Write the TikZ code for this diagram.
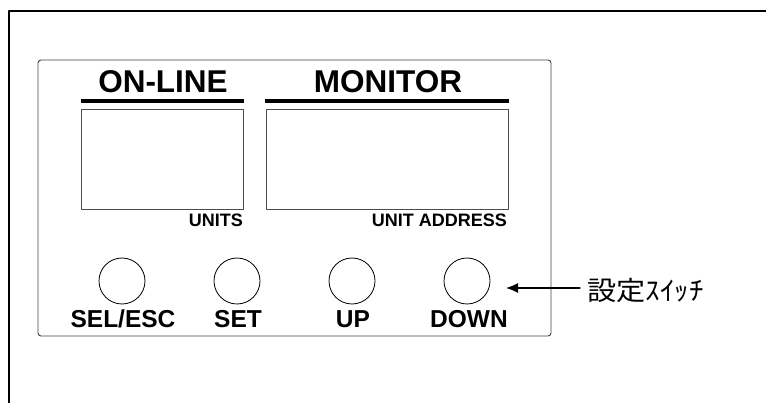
\documentclass[tikz,border=0pt]{standalone}
\usepackage{fontspec}
\setmainfont{Liberation Sans}
\newfontfamily\jpfont[FakeStretch=1.1]{Noto Sans CJK JP}
\usetikzlibrary{positioning,arrows.meta}
\tikzstyle{every path}=[line cap=round, line join=round]
\tikzstyle{lbl}=[inner sep=0pt, font=\bfseries]
\tikzstyle{btn}=[circle, draw, line width=0.8pt, minimum size=46pt, inner sep=0pt]
\tikzstyle{lcd}=[draw=black!70, line width=0.8pt]

\begin{document}
\begin{tikzpicture}[x=1pt,y=-1pt]
        \useasboundingbox (0,0) rectangle (766,403);
        %marco exterior
        \draw[line width=1.4pt] (9,403) -- (9,11) -- (766,11);
        %panel
        \draw[black!75, line width=0.9pt, rounded corners=3pt] (38,60) rectangle (551,336);
        %titulos
        \node[lbl, anchor=base, font=\bfseries\fontsize{31.5}{32}\selectfont] (online) at (163,93) {ON-LINE};
        \node[lbl, anchor=base, font=\bfseries\fontsize{31.5}{32}\selectfont] (monitor) at (388,93) {MONITOR};
        \draw[line width=4pt, line cap=butt] (81,101) -- (244,101);
        \draw[line width=4pt, line cap=butt] (265,101) -- (509,101);
        %pantallas
        \draw[lcd] (81,109) rectangle (243,209);
        \draw[lcd] (266,109) rectangle (508,209);
        \node[lbl, anchor=base east, font=\bfseries\fontsize{18}{19}\selectfont] (units) at (243,227) {UNITS};
        \node[lbl, anchor=base east, font=\bfseries\fontsize{18}{19}\selectfont] (addr) at (507,227) {UNIT ADDRESS};
        %botones
        \node[btn] (sel) at (122,281) {};
        \node[btn] (set) at (237,281) {};
        \node[btn] (up) at (352,281) {};
        \node[btn] (down) at (467,281) {};
        \node[lbl, anchor=base, font=\bfseries\fontsize{24.5}{25}\selectfont] (tsel) at (123,328) {SEL/ESC};
        \node[lbl, anchor=base, font=\bfseries\fontsize{24.5}{25}\selectfont] (tset) at (238,328) {SET};
        \node[lbl, anchor=base, font=\bfseries\fontsize{24.5}{25}\selectfont] (tup) at (353,328) {UP};
        \node[lbl, anchor=base, font=\bfseries\fontsize{24.5}{25}\selectfont] (tdown) at (469,328) {DOWN};
        %flecha
        \node[inner sep=0pt, anchor=west, font=\jpfont\fontsize{26.5}{27}\selectfont] (sw) at (587,290) {設定ｽｲｯﾁ};
        \coordinate (tip) at (506,288);
        \draw[line width=1.2pt, -{Latex[length=12pt,width=10pt]}] (sw.west |- tip) ++(-7,0) -- (tip);
 \end{tikzpicture}
\end{document}
